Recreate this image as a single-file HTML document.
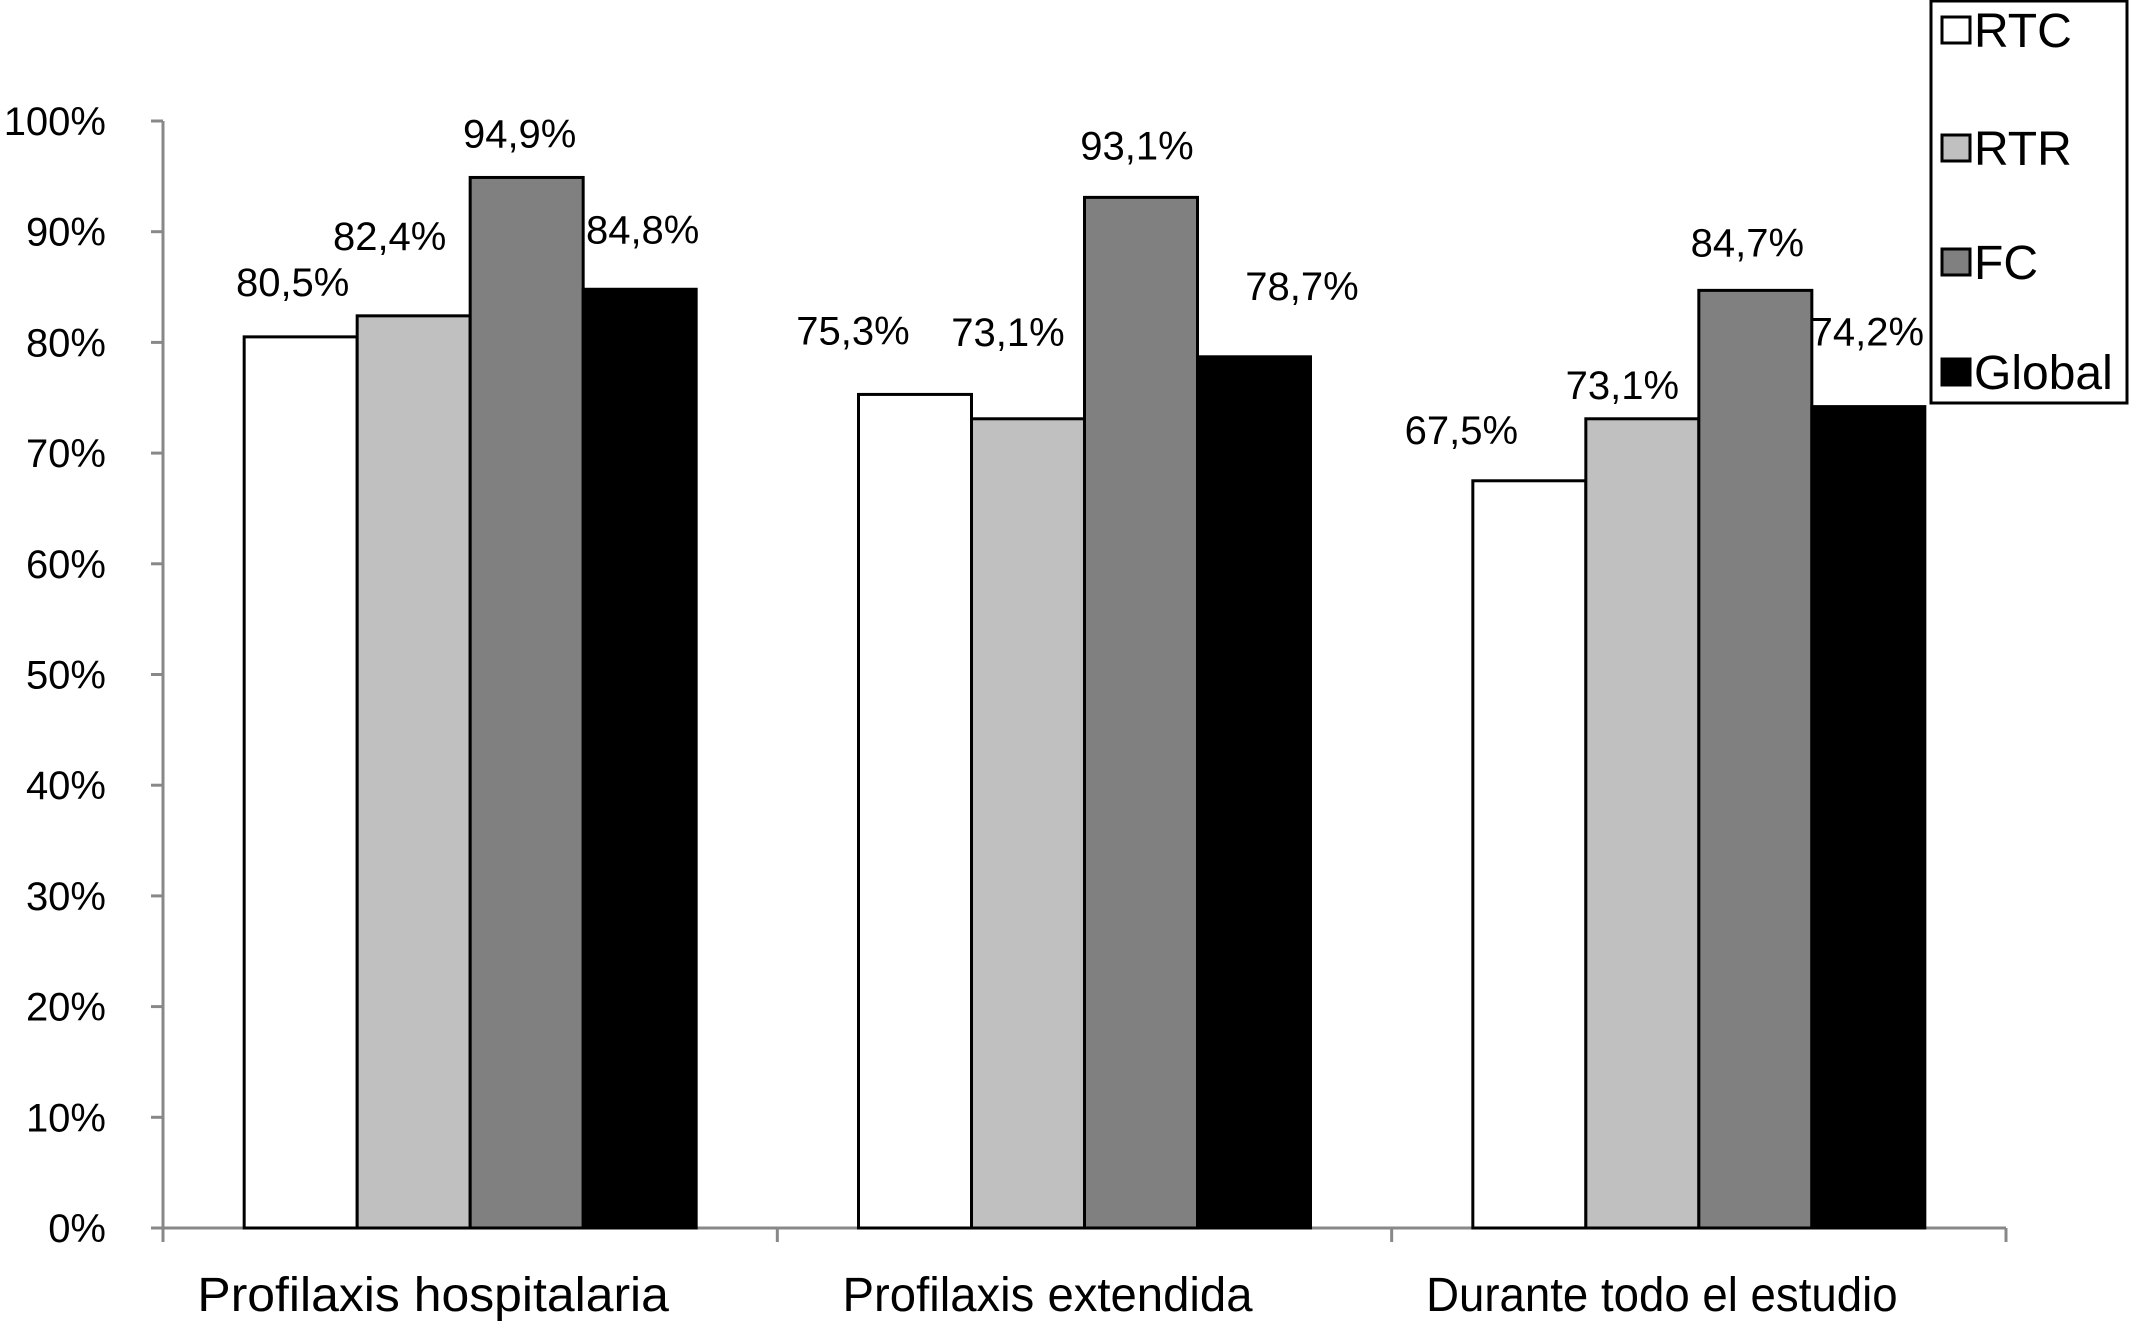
<!DOCTYPE html>
<html><head><meta charset="utf-8"><style>
html,body{margin:0;padding:0;background:#fff;}
svg{display:block;font-family:"Liberation Sans",Arial,sans-serif;}
</style></head><body>
<svg id="chart" width="2131" height="1322" viewBox="0 0 2131 1322" xmlns="http://www.w3.org/2000/svg">
<g id="axes"></g>
<g id="bars"></g>
<g id="legend"></g>
</svg>
<script>
const categories = ["Profilaxis hospitalaria", "Profilaxis extendida", "Durante todo el estudio"];
const seriesNames = ["RTC", "RTR", "FC", "Global"];
const rtcValues = [80.5, 75.3, 67.5];
const rtrValues = [82.4, 73.1, 73.1];
const fcValues = [94.9, 93.1, 84.7];
const globalValues = [84.8, 78.7, 74.2];
const yTicks = [0, 10, 20, 30, 40, 50, 60, 70, 80, 90, 100];

// layout-only nudges for value labels (category x series), in px
const labelDx = [[-8,-24,-7,3],[-62,-20,-4,48],[-68,-20,-8,-1]];
const labelGap = [[41,66,30,46],[50,73,38,57],[37,20,34,61]];

const NS = "http://www.w3.org/2000/svg";
const fills = ["#ffffff", "#c0c0c0", "#808080", "#000000"];
const series = [rtcValues, rtrValues, fcValues, globalValues];
const x0 = 163, x1 = 2006, yZero = 1228, yTop = 121;
const catW = (x1 - x0) / categories.length;
const barW = 113;
function y(v){ return yZero - (v / 100) * (yZero - yTop); }
function catX(i){ return x0 + i * catW; }
function mk(tag, attrs, parent){
  const el = document.createElementNS(NS, tag);
  for (const k in attrs) el.setAttribute(k, attrs[k]);
  parent.appendChild(el); return el;
}
const axes = document.getElementById('axes');
const bars = document.getElementById('bars');
const legend = document.getElementById('legend');

let ax = mk('line', {x1:x0, y1:yTop, x2:x0, y2:yZero, stroke:'#888', 'stroke-width':3}, axes);


let bx = mk('line', {x1:x0-12, y1:yZero, x2:x1, y2:yZero, stroke:'#888', 'stroke-width':3}, axes);



yTicks.forEach(t => {
  const tk = mk('line', {x1:x0-12, y1:y(t), x2:x0, y2:y(t), stroke:'#888', 'stroke-width':3}, axes);
  
  
  const lb = mk('text', {x:106, y:y(t)+14, 'text-anchor':'end', 'font-size':40}, axes);
  lb.textContent = t + '%';
  
  
});
for (let i = 0; i <= categories.length; i++) {
  const tk = mk('line', {x1:catX(i), y1:yZero, x2:catX(i), y2:yZero+14, stroke:'#888', 'stroke-width':3}, axes);
  
  
}
categories.forEach((c, i) => {
  const lb = mk('text', {x:catX(i)+catW/2-37, y:1311, 'text-anchor':'middle', 'font-size':48, textLength: c.length*20.5, lengthAdjust:'spacingAndGlyphs'}, axes);
  lb.textContent = c;
  
  
});

categories.forEach((c, i) => {
  const start = catX(i) + (catW - barW * series.length) / 2;
  series.forEach((vals, s) => {
    const v = vals[i];
    const r = mk('rect', {x:start + s*barW, y:y(v), width:barW, height:yZero - y(v), fill:fills[s], stroke:'#000', 'stroke-width':3}, bars);
    
    
    const lb = mk('text', {x:start + s*barW + barW/2 + labelDx[i][s], y:y(v) - labelGap[i][s], 'text-anchor':'middle', 'font-size':40}, bars);
    lb.textContent = v.toFixed(1).replace('.', ',') + '%';
    
    
  });
});

const box = mk('rect', {x:1931, y:1, width:196, height:402, fill:'#fff', stroke:'#000', 'stroke-width':3}, legend);


const ly = [30, 148, 262, 372];
seriesNames.forEach((n, s) => {
  const sw = mk('rect', {x:1942, y:ly[s]-13, width:28, height:26, fill:fills[s], stroke:'#000', 'stroke-width':3}, legend);
  
  
  const t = mk('text', {x:1974, y:ly[s]+17, 'font-size':48}, legend);
  t.textContent = n;
  
  
});
</script>
</body></html>
